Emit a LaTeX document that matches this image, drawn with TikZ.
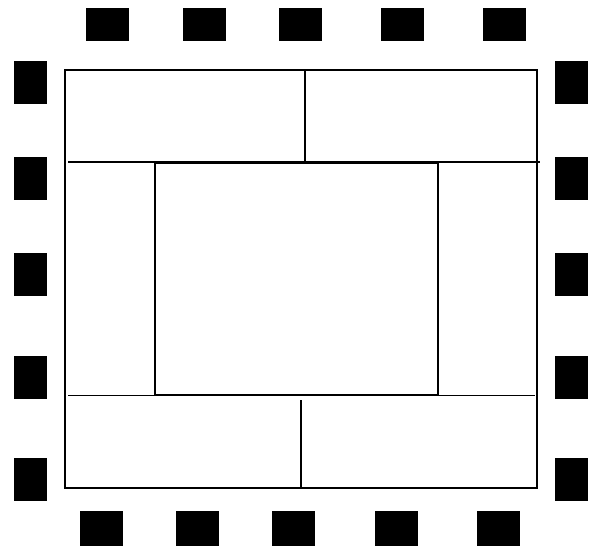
\documentclass[tikz,border=0pt]{standalone}
\begin{document}
\begin{tikzpicture}[x=1pt,y=-1pt,
  blk/.style={fill=black,draw=none},
  wall/.style={draw=black,line width=2pt},
  part/.style={draw=black,line width=1.8pt}]
\useasboundingbox (0,0) rectangle (594,546);
% top row
\foreach \a in {86,183,279,381,483}{\path[blk] (\a,8) rectangle ++(43,33);}
% bottom row
\foreach \a in {80,176,272,375,477}{\path[blk] (\a,511) rectangle ++(43,35);}
% left and right columns
\foreach \b in {61,157,253,356,458}{
  \path[blk] (14,\b) rectangle ++(33,43);
  \path[blk] (555,\b) rectangle ++(33,43);
}
% outer rectangle
\draw[wall] (65,70) rectangle (537,488);
% top band
\draw[part] (68,162) -- (540,162);
\draw[part] (305,70) -- (305,162);
% inner rectangle
\draw[part] (155,163) rectangle (438,395);
% bottom band
\draw[part] (68,395.5) -- (535,395.5);
\draw[part] (301,400) -- (301,488);
\end{tikzpicture}
\end{document}
